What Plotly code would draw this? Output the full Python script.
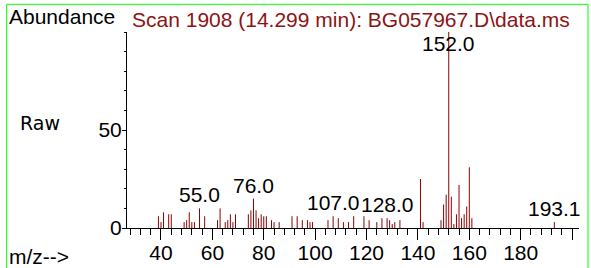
import plotly.graph_objects as go

# ---- data ----
mz = [39, 40, 41, 43, 44, 49, 50, 51, 52, 53, 55, 57, 62, 63, 65, 66, 67, 68, 69,
      74, 75, 76, 77, 78, 79, 80, 81, 83, 84, 86, 91, 93, 95, 97, 98, 99,
      105, 107, 109, 111, 113, 115, 119, 121, 124, 126, 128, 129, 130, 131, 133,
      141, 142, 149, 150, 151, 152, 153, 154, 155, 156, 157, 158, 159, 160, 161, 193.1]
abundance = [6, 3, 8, 7, 7, 3, 4, 8, 3, 3, 10, 6, 4, 10, 3, 4, 7, 3, 7,
             7, 9, 15, 9, 5, 7, 6, 6, 4, 3, 3, 6, 6, 4, 4, 3, 3,
             4, 6, 5, 3, 3, 6, 6, 4, 3, 5, 5, 4, 2, 3, 4,
             25, 3, 4, 12, 17, 100, 16, 2, 7, 22, 5, 7, 11, 31, 5, 3]
labelled_peaks = [55, 76, 107, 128, 152, 193.1]
x_major = [40, 60, 80, 100, 120, 140, 160, 180, 200]
x_labels = ["40", "60", "80", "100", "120", "140", "160", "180", ""]
y_major = [0, 50]
y_labels = ["0", "50"]
title_text = "Scan 1908 (14.299 min): BG057967.D\\data.ms"

# ---- build stick spectrum ----
xs, ys = [], []
for m, a in zip(mz, abundance):
    xs += [m, m, None]
    ys += [0, a, None]

fig = go.Figure()
fig.add_trace(go.Scatter(x=xs, y=ys, mode="lines",
                         line=dict(color="#8b0000", width=1),
                         hoverinfo="skip", showlegend=False))

FONT = "Liberation Sans, Arial, sans-serif"
annotations = []
for p in labelled_peaks:
    a = abundance[mz.index(p)]
    if a > 85:
        annotations.append(dict(x=p, y=94, xref="x", yref="y", text=f"{p:.1f}",
                                showarrow=False, yanchor="middle",
                                font=dict(family=FONT, size=21, color="black")))
    else:
        annotations.append(dict(x=p, y=a, xref="x", yref="y", text=f"{p:.1f}",
                                showarrow=False, yanchor="bottom", yshift=0,
                                font=dict(family=FONT, size=21, color="black")))

annotations += [
    dict(x=-0.2655, y=1.079, xref="paper", yref="paper", text="Abundance",
         showarrow=False, xanchor="left", yanchor="middle",
         font=dict(family=FONT, size=21, color="black")),
    dict(x=0.0066, y=1.065, xref="paper", yref="paper", text=title_text,
         showarrow=False, xanchor="left", yanchor="middle",
         font=dict(family=FONT, size=21, color="#8c1414")),
    dict(x=-0.1925, y=0.536, xref="paper", yref="paper", text="Raw",
         showarrow=False, xanchor="center", yanchor="middle",
         font=dict(family="DejaVu Sans", size=19, color="black")),
    dict(x=-0.2662, y=-0.143, xref="paper", yref="paper", text="m/z-->",
         showarrow=False, xanchor="left", yanchor="middle",
         font=dict(family=FONT, size=21, color="black")),
]

green = dict(color="#00ff00", width=1)
shapes = [
    dict(type="line", xref="paper", yref="paper", x0=-0.2662, x1=-0.2662, y0=-0.3, y1=1.1413, line=green),
    dict(type="line", xref="paper", yref="paper", x0=1.0199, x1=1.0199, y0=-0.3, y1=1.1413, line=green),
    dict(type="line", xref="paper", yref="paper", x0=-0.2662, x1=1.0199, y0=1.1413, y1=1.1413, line=green),
]

fig.update_layout(
    width=591, height=268,
    margin=dict(l=127, r=12, t=32, b=40),
    paper_bgcolor="white", plot_bgcolor="white",
    annotations=annotations, shapes=shapes,
    xaxis=dict(range=[26.77, 202.7], showgrid=False, zeroline=False, automargin=False,
               showline=True, linecolor="black", linewidth=1,
               tickmode="array", tickvals=x_major, ticktext=x_labels,
               ticks="outside", ticklen=11, tickcolor="black", tickwidth=1,
               ticklabelstandoff=-5,
               minor=dict(tickmode="linear", tick0=0, dtick=4, ticks="outside",
                          ticklen=6, tickcolor="black", tickwidth=1, showgrid=False),
               tickfont=dict(family=FONT, size=21, color="black")),
    yaxis=dict(range=[0, 100], showgrid=False, zeroline=False, automargin=False,
               showline=True, linecolor="black", linewidth=1,
               tickmode="array", tickvals=y_major, ticktext=y_labels,
               ticks="outside", ticklen=4, tickcolor="black", tickwidth=1,
               ticklabelstandoff=-4,
               minor=dict(tickmode="linear", tick0=0, dtick=10, ticks="outside",
                          ticklen=2, tickcolor="black", tickwidth=1, showgrid=False),
               tickfont=dict(family=FONT, size=21, color="black")),
)

fig.write_html("out.html", config={"displayModeBar": False},
               post_script="document.body.style.margin='0';document.body.style.overflow='hidden';")
